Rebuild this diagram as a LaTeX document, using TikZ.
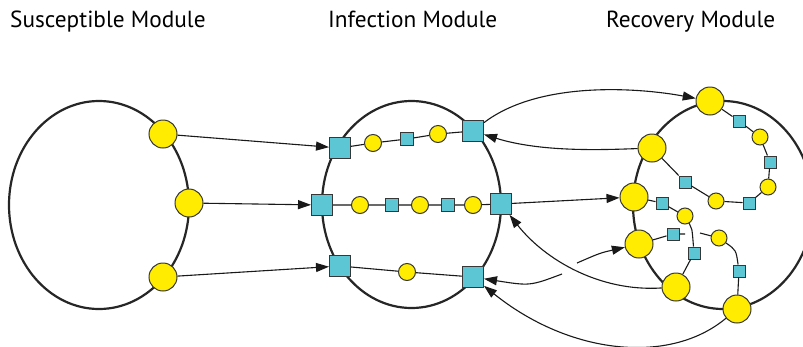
\documentclass[tikz,border=0pt]{standalone}
\usepackage{fontspec}
\setmainfont{PT Sans}
\usetikzlibrary{arrows.meta}
\definecolor{yel}{RGB}{255,236,0}
\definecolor{cyn}{RGB}{92,198,212}
\definecolor{bord}{RGB}{55,55,55}
\tikzset{
  bigc/.style={circle,fill=yel,draw=bord,line width=1pt,minimum size=28pt,inner sep=0pt},
  smc/.style={circle,fill=yel,draw=bord,line width=1pt,minimum size=17pt,inner sep=0pt},
  rsmc/.style={circle,fill=yel,draw=bord,line width=1pt,minimum size=16pt,inner sep=0pt},
  bigs/.style={rectangle,fill=cyn,draw=bord,line width=1pt,minimum size=21pt,inner sep=0pt},
  sms/.style={rectangle,fill=cyn,draw=bord,line width=1pt,minimum size=13pt,inner sep=0pt},
  rsms/.style={rectangle,fill=cyn,draw=bord,line width=1pt,minimum size=12pt,inner sep=0pt},
  module/.style={draw=black!85,line width=2.2pt},
  link/.style={draw=black!90,line width=1.1pt},
  arr/.style={draw=black!90,line width=1.1pt,-{Triangle[length=13pt,width=9pt]}},
  title/.style={anchor=base west,inner sep=0pt,font=\fontsize{23.3}{26}\selectfont}
}
\begin{document}
\begin{tikzpicture}[x=1pt,y=-1pt]
\useasboundingbox (0,0) rectangle (803,346);
\clip (0,0) rectangle (803,346);
% titles
\node[title] (t1) at (10,27.7) {Susceptible Module};
\node[title] (t2) at (328,27.7) {Infection Module};
\node[title] (t3) at (606,27.7) {Recovery Module};
% module outlines
\draw[module] (99,205) ellipse [x radius=90pt, y radius=104pt];
\draw[module] (411.5,204.5) ellipse [x radius=89.5pt, y radius=103.5pt];
\draw[module] (723,205) ellipse [x radius=90pt, y radius=104pt];
% susceptible nodes
\node[bigc] (s1) at (163,134) {};
\node[bigc] (s2) at (189,203) {};
\node[bigc] (s3) at (163,277) {};
% infection nodes
\node[bigs] (itl) at (340,148) {};
\node[bigs] (itr) at (473,131) {};
\node[bigs] (iml) at (322,205) {};
\node[bigs] (imr) at (501,204) {};
\node[bigs] (ibl) at (340,266) {};
\node[bigs] (ibr) at (473,277) {};
\node[smc] (ta) at (373,143) {};
\node[sms] (tb) at (407,139) {};
\node[smc] (tc) at (438,134) {};
\node[smc] (ma) at (360,205) {};
\node[sms] (mb) at (392,205) {};
\node[smc] (mc) at (420,205) {};
\node[sms] (md) at (448,205) {};
\node[smc] (me) at (473,205) {};
\node[smc] (ba) at (407,272) {};
% infection chains
\draw[link] (itl) -- (ta) -- (tb) -- (tc) -- (itr);
\draw[link] (iml) -- (ma) -- (mb) -- (mc) -- (md) -- (me) -- (imr);
\draw[link] (ibl) -- (ba) -- (ibr);
% recovery nodes
\node[bigc] (r1) at (710,101) {};
\node[bigc] (r2) at (652,148) {};
\node[bigc] (r3) at (634,197) {};
\node[bigc] (r4) at (639,244) {};
\node[bigc] (r5) at (676,287) {};
\node[bigc] (r6) at (737,309) {};
\node[rsms] (qa) at (739,121) {};
\node[rsmc] (qb) at (760,137) {};
\node[rsms] (qc) at (770,162) {};
\node[rsmc] (qd) at (768,187) {};
\node[rsms] (qe) at (749,203) {};
\node[rsmc] (qf) at (716,201) {};
\node[rsms] (qg) at (685,182) {};
\node[rsms] (h) at (662,203) {};
\node[rsmc] (i) at (685,216) {};
\node[rsms] (j) at (694,253) {};
\node[rsms] (k) at (673,234) {};
\node[rsmc] (l) at (719,238) {};
\node[rsms] (m) at (739,271) {};
\coordinate (kx) at (685,234);
\coordinate (ly) at (700,233);
% recovery chains
\draw[link] (r1) -- (qa) -- (qb) -- (qc) -- (qd) -- (qe) -- (qf) -- (qg) -- (r2);
\draw[link] (r3) -- (h) -- (i);
\draw[link] (i) .. controls (692,228) .. (j);
\draw[link] (j) -- (r5);
\draw[link] (r4) -- (k) -- (kx);
\draw[link] (ly) -- (l);
\draw[link] (l) .. controls (736,250) .. (m);
\draw[link] (m) -- (r6);
% inter-module connectors
\draw[arr] (s1) -- (itl);
\draw[arr] (s2) -- (iml);
\draw[arr] (s3) -- (ibl);
\draw[arr] (imr) -- (r3);
\draw[arr] (itr) .. controls (540,80) and (640,88) .. (r1);
\draw[arr] (r2) .. controls (600,150) and (540,152) .. (itr);
\draw[arr] (r5) .. controls (600,292) and (545,260) .. (imr);
\draw[arr] (r6) .. controls (670,365) and (570,355) .. (ibr);
\coordinate (ga) at (562,274);
\coordinate (gb) at (577,263);
\draw[arr] (ga) .. controls (530,286) .. (ibr);
\draw[arr] (gb) .. controls (600,253) .. (r4);
\end{tikzpicture}
\end{document}
